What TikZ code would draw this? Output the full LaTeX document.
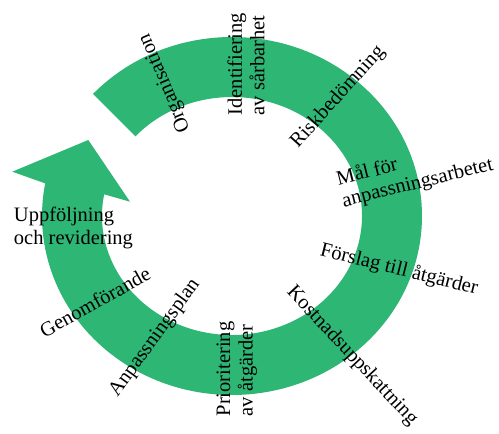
\documentclass[tikz,border=0pt]{standalone}
\usepackage{fontspec}
\setmainfont{Liberation Serif}
\definecolor{ringgreen}{RGB}{46,182,117}

\begin{document}
\begin{tikzpicture}[x=1pt,y=1pt,
  steptext/.style={font=\fontsize{20.5}{22.5}\selectfont,inner sep=0pt,align=left}]
 \useasboundingbox (-232,-218) rectangle (267,216);

 % draw the ring with the arrow head
 \fill[ringgreen] (137:190 and 179)
       arc[start angle=137,end angle=-190.5,x radius=190,y radius=179]
       -- (-219.7,44.3) -- (-143.7,76) -- (-102,14.3)
       -- (-190.5:130 and 119)
       arc[start angle=-190.5,end angle=138,x radius=130,y radius=119]
       -- cycle;

 % draw each step of the cycle
 \foreach \ang/\rad/\rot/\name/\txt in {
     116.7/148.9/113/org/Organisation,
     84.7/152.6/90/ident/Identifiering\\av sårbarhet,
     48.3/159.4/48/risk/Riskbedömning,
     13.4/188.1/14/mal/Mål för\\anpassningsarbetet,
     -17.9/175.5/-14/forslag/Förslag till åtgärder,
     -49.4/184.4/-47/kostnad/Kostnadsuppskattning,
     -88.2/153.1/90/prio/Prioritering\\av åtgärder,
     -122.3/144.3/54/plan/Anpassningsplan,
     -147.9/161.8/29/genom/Genomförande,
     -175.7/159/0/uppf/Uppföljning\\och revidering}
         \node[steptext,rotate=\rot] (\name) at (\ang:\rad) {\txt};
\end{tikzpicture}
\end{document}
